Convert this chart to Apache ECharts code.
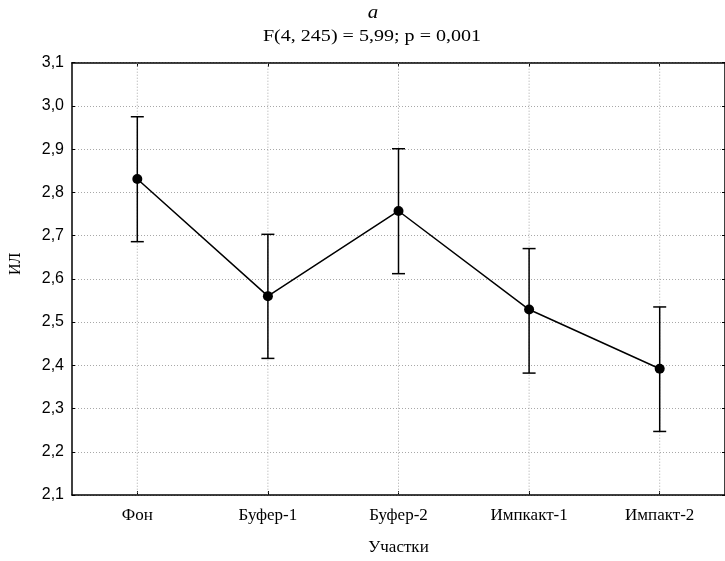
<!DOCTYPE html>
<html>
<head>
<meta charset="utf-8">
<title>ИЛ по участкам</title>
<script src="https://cdn.jsdelivr.net/npm/echarts@6/dist/echarts.min.js"></script>
<style>
  html, body { margin: 0; padding: 0; background: #fff; }
  #chart { width: 725px; height: 561px; }
</style>
</head>
<body>
<div id="chart"></div>
<script>
// Sites along the gradient
const categories = ['Фон', 'Буфер-1', 'Буфер-2', 'Импкакт-1', 'Импакт-2'];
// Group means of ИЛ
const means = [2.831, 2.560, 2.757, 2.529, 2.392];
// Confidence interval bounds
const upper = [2.975, 2.703, 2.901, 2.670, 2.535];
const lower = [2.686, 2.416, 2.612, 2.382, 2.247];
// Y axis range and step
const yMin = 2.1, yMax = 3.1, yStep = 0.1;

const titleText = 'a';
const subtitleText = 'F(4, 245) = 5,99; p = 0,001';

const serif = '"Liberation Serif", "Times New Roman", serif';
const sans = '"Liberation Sans", Arial, sans-serif';

const chart = echarts.init(document.getElementById('chart'), null, { renderer: 'canvas' });

const gridLine = { show: true, lineStyle: { color: '#a8a8a8', width: 1, type: [1, 2] } };
const fmt = v => v.toFixed(1).replace('.', ',');

const errData = categories.map((c, i) => [i, lower[i], upper[i]]);

chart.setOption({
  animation: false,
  backgroundColor: '#fff',
  grid: { left: 71, top: 62.7, width: 656, height: 433.3, containLabel: false },
  graphic: [
    {
      type: 'text', x: 373, y: 13, scaleX: 1.1,
      style: { text: titleText, font: 'italic 19px ' + serif, fill: '#000',
               textAlign: 'center', textVerticalAlign: 'middle' }
    },
    {
      type: 'text', x: 372, y: 36.5, scaleX: 1.18,
      style: { text: subtitleText, font: '17px ' + serif, fill: '#000',
               textAlign: 'center', textVerticalAlign: 'middle' }
    }
  ],
  xAxis: [
    {
      type: 'category', data: categories, position: 'bottom', boundaryGap: true,
      name: 'Участки', nameLocation: 'middle', nameGap: 44,
      nameTextStyle: { fontFamily: serif, fontSize: 17, color: '#000' },
      axisLine: { show: true, onZero: false, lineStyle: { color: '#000', width: 1.5 } },
      axisTick: { show: true, inside: true, alignWithLabel: true, length: 4, lineStyle: { color: '#000' } },
      axisLabel: { fontFamily: serif, fontSize: 17, color: '#000', margin: 12 },
      splitLine: { show: false }
    },
    {
      type: 'category', data: categories, position: 'top', boundaryGap: true,
      axisLine: { show: true, onZero: false, lineStyle: { color: '#000', width: 1.5 } },
      axisTick: { show: true, inside: true, alignWithLabel: true, length: 4, lineStyle: { color: '#000' } },
      axisLabel: { show: false },
      splitLine: { show: false }
    }
  ],
  yAxis: [
    {
      type: 'value', min: yMin, max: yMax, interval: yStep,
      name: 'ИЛ', nameLocation: 'middle', nameGap: 48, nameRotate: 90,
      nameTextStyle: { fontFamily: serif, fontSize: 16, color: '#000', padding: [0, 0, 0, 30] },
      axisLine: { show: true, onZero: false, lineStyle: { color: '#000', width: 1.5 } },
      axisTick: { show: true, inside: true, length: 3, lineStyle: { color: '#000' } },
      axisLabel: { fontFamily: sans, fontSize: 16, color: '#000', margin: 8, formatter: fmt },
      splitLine: gridLine
    },
    {
      type: 'value', min: yMin, max: yMax, interval: yStep, position: 'right',
      axisLine: { show: true, onZero: false, lineStyle: { color: '#000', width: 1.5 } },
      axisTick: { show: true, inside: true, length: 3, lineStyle: { color: '#000' } },
      axisLabel: { show: false },
      splitLine: { show: false }
    }
  ],
  series: [
    {
      // vertical dotted lines at category centres
      type: 'custom', xAxisIndex: 0, yAxisIndex: 0, silent: true, z: 1,
      data: categories.map((c, i) => [i]),
      renderItem: (params, api) => {
        const x = api.coord([api.value(0), yMin])[0];
        const cs = params.coordSys;
        return {
          type: 'line',
          shape: { x1: x, y1: cs.y, x2: x, y2: cs.y + cs.height },
          style: { stroke: '#a8a8a8', lineWidth: 1, lineDash: [1, 2] }
        };
      }
    },
    {
      // confidence interval whiskers
      type: 'custom', xAxisIndex: 0, yAxisIndex: 0, z: 3,
      data: errData,
      renderItem: (params, api) => {
        const i = api.value(0);
        const lo = api.coord([i, api.value(1)]);
        const hi = api.coord([i, api.value(2)]);
        const cap = 6.5;
        const st = { stroke: '#000', lineWidth: 1.5 };
        return {
          type: 'group',
          children: [
            { type: 'line', shape: { x1: lo[0], y1: lo[1], x2: hi[0], y2: hi[1] }, style: st },
            { type: 'line', shape: { x1: hi[0] - cap, y1: hi[1], x2: hi[0] + cap, y2: hi[1] }, style: st },
            { type: 'line', shape: { x1: lo[0] - cap, y1: lo[1], x2: lo[0] + cap, y2: lo[1] }, style: st }
          ]
        };
      }
    },
    {
      type: 'line', xAxisIndex: 0, yAxisIndex: 0, z: 4,
      data: means,
      symbol: 'circle', symbolSize: 10,
      itemStyle: { color: '#000' },
      lineStyle: { color: '#000', width: 1.5 }
    }
  ]
});
</script>
</body>
</html>
